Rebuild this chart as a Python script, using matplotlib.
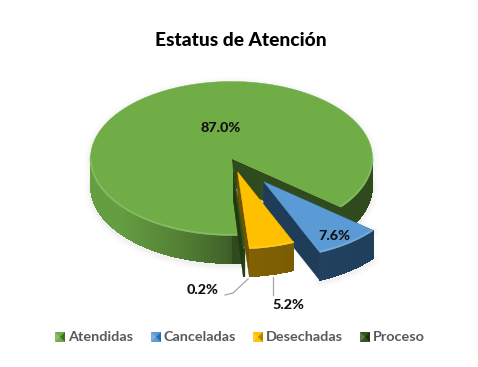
import numpy as np
import matplotlib
matplotlib.use("Agg")
import matplotlib.pyplot as plt
from matplotlib.colors import to_rgb
from matplotlib.patches import Polygon

categories = ["Atendidas", "Canceladas", "Desechadas", "Proceso"]
values = [87.0, 7.6, 5.2, 0.2]
label_texts = ["87.0%", "7.6%", "5.2%", "0.2%"]
title_text = "Estatus de Atención"

top_colors = ["#70ad47", "#5b9bd5", "#ffc000", "#33561f"]
side_left = ["#659d41", "#264a6b", "#96700a", "#2b4a19"]
side_right = ["#3a5b25", "#1f3d59", "#6f5400", "#22390f"]
cut_colors = ["#2f4a1c", "#1f3d59", "#6f5400", "#22390f"]
explode = [0.0, 0.38, 0.18, 0.17]

plt.rcParams["font.family"] = ["Lato", "DejaVu Sans"]
fig = plt.figure(figsize=(4.78, 3.67), dpi=100, facecolor="white")
ax = fig.add_axes([0, 0, 1, 1])
ax.set_xlim(0, 478)
ax.set_ylim(367, 0)
ax.axis("off")

CX, CY, RX, RY, DEPTH = 231.5, 158.5, 141.0, 77.0, 28.0
START = -86.0

def mix(a, b, t):
    a, b = np.array(to_rgb(a)), np.array(to_rgb(b))
    return tuple(a + (b - a) * t)

def rim(a_deg, ox, oy):
    a = np.radians(a_deg)
    return np.column_stack([ox + RX * np.cos(a), oy - RY * np.sin(a)])

def draw_slice(a1, a2, i):
    mid = np.radians((a1 + a2) / 2)
    ox = CX + explode[i] * RX * np.cos(mid)
    oy = CY - explode[i] * RY * np.sin(mid)
    n = max(int((a1 - a2) * 2), 4)
    ang = np.linspace(a1, a2, n)
    pts = rim(ang, ox, oy)
    apex = np.array([ox, oy])
    down = np.array([0, DEPTH])
    z = 2 + i * 3
    outline = np.vstack([apex, pts, pts[::-1] + down, apex + down])
    if i in (0, 1):
        for lw, al in [(9, 0.025), (6, 0.03), (3, 0.05)]:
            ax.add_patch(Polygon(outline + np.array([0, 2]), closed=True, fc="none",
                                 ec="#808080", lw=lw, alpha=al, zorder=z - 1, joinstyle="round"))
    for p in (pts[0], pts[-1]):
        quad = np.array([apex, p, p + down, apex + down])
        ax.add_patch(Polygon(quad, closed=True, fc=cut_colors[i], ec=cut_colors[i],
                             lw=0.3, zorder=z))
    # outer wall; each quad overlaps the next one so no seams appear
    for k in range(n - 1):
        m = np.radians(0.5 * (ang[k] + ang[k + 1]))
        if np.sin(m) < 0:
            c = np.cos(m)
            if i == 0:
                col = to_rgb(cut_colors[0]) if c > 0 else mix(side_right[0], side_left[0], min(1, (-c * 1.25) ** 0.75))
            else:
                col = mix(side_right[i], side_left[i], (1 - c) / 2)
            j = min(k + 3, n - 1)
            q = np.array([pts[k], pts[j], pts[j] + down, pts[k] + down])
            ax.add_patch(Polygon(q, closed=True, fc=col, ec="none", zorder=z + 1, antialiased=False))
    ax.add_patch(Polygon(np.vstack([apex, pts]), closed=True, fc=top_colors[i],
                         ec=top_colors[i], lw=0.3, zorder=z + 2))
    # light bevel along the front rim, broken wherever the rim faces away
    xs = pts[:, 0].copy()
    ys = pts[:, 1].copy() - 0.7
    xs[np.sin(np.radians(ang)) > 0.0] = np.nan
    hl = mix(top_colors[i], "#ffffff", 0.22)
    ax.plot(xs, ys, color=hl, lw=1.3, alpha=0.75, zorder=z + 2.5, solid_capstyle="butt")

total = sum(values)
a = START
spans = []
for v in values:
    b = a - 360.0 * v / total
    spans.append((a, b))
    a = b

for i in [0, 3, 2, 1]:
    draw_slice(spans[i][0], spans[i][1], i)

ax.text(240.5, 41, title_text, ha="center", va="center", fontsize=13.8, fontweight="black",
        color="#000000", zorder=30)
lab = dict(ha="center", va="center", fontsize=10.4, fontweight="black", color="#111111", zorder=30)
ax.text(221, 128, label_texts[0], **lab)
ax.text(334, 236, label_texts[1], **lab)
ax.text(288, 305, label_texts[2], **lab)
ax.text(203, 290, label_texts[3], **lab)
ax.plot([225, 233, 248], [295, 293, 279], color="#a6a6a6", lw=0.9, zorder=29)
ax.plot([273, 273], [277, 295], color="#a6a6a6", lw=0.9, zorder=29)

leg_x = [55, 151, 253, 360]
text_x = [68, 163.5, 266, 373]
dark = ["#3f6e24", "#2e6aa3", "#b08400", "#1e3410"]
for x0, tx, name, c, d in zip(leg_x, text_x, categories, top_colors, dark):
    y0, s = 332.0, 10.0
    ctr = (x0 + s / 2, y0 + s / 2)
    ax.add_patch(Polygon([(x0, y0), (x0 + s, y0), (x0 + s, y0 + s), (x0, y0 + s)], fc=c, ec="none", zorder=30))
    ax.add_patch(Polygon([(x0, y0), ctr, (x0, y0 + s)], fc=mix(c, "#ffffff", 0.2), ec="none", zorder=31))
    ax.add_patch(Polygon([(x0 + s, y0), ctr, (x0 + s, y0 + s)], fc=d, ec="none", zorder=31))
    ax.text(tx, 337, name, ha="left", va="center", fontsize=10.4, fontweight="bold",
            color="#595959", zorder=31)

fig.savefig("out.png", dpi=100, facecolor="white")
